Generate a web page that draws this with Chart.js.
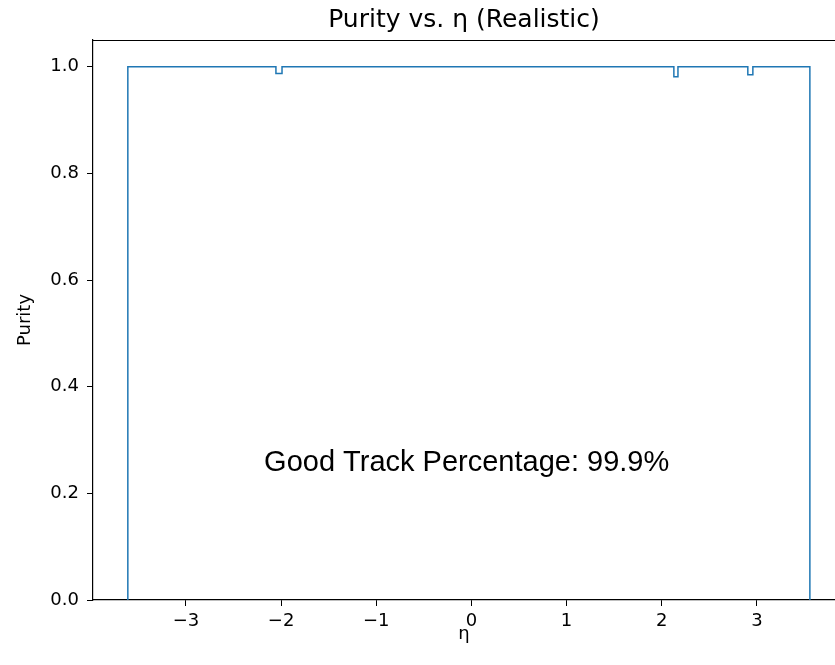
<!DOCTYPE html>
<html>
<head>
<meta charset="utf-8">
<script src="https://cdn.jsdelivr.net/npm/chart.js@4"></script>
<style>
  body { margin: 0; background: #fff; }
  canvas { display: block; }
</style>
</head>
<body>
<canvas id="purityChart" width="835" height="665"></canvas>
<script>
// histogram bin edges (eta) and purity per bin
const etaEdges = [-3.61, -2.054, -1.99, 2.127, 2.17, 2.904, 2.957, 3.556];
const purity = [1.0, 0.987, 1.0, 0.981, 1.0, 0.985, 1.0];
const xTicks = [-3, -2, -1, 0, 1, 2, 3];
const yTicks = [0.0, 0.2, 0.4, 0.6, 0.8, 1.0];
const goodTrackText = 'Good Track Percentage: 99.9%';

// step outline: down to 0 at both ends like histtype='step'
const stepPoints = [{ x: etaEdges[0], y: 0 }];
purity.forEach((v, i) => stepPoints.push({ x: etaEdges[i], y: v }));
stepPoints.push({ x: etaEdges[etaEdges.length - 1], y: 0 });

const frameAndText = {
    id: 'frameAndText',
    afterDraw(chart) {
        const ctx = chart.ctx;
        const area = chart.chartArea;
        ctx.save();
        ctx.strokeStyle = '#000';
        ctx.lineWidth = 1.2;
        ctx.beginPath();
        ctx.moveTo(area.left, area.top + 0.5);
        ctx.lineTo(area.right, area.top + 0.5);
        ctx.stroke();

        const x = chart.scales.x.getPixelForValue(-0.05);
        const y = chart.scales.y.getPixelForValue(0.256);
        ctx.fillStyle = '#000';
        ctx.font = '29px "Liberation Sans", Arial, sans-serif';
        ctx.textAlign = 'center';
        ctx.textBaseline = 'middle';
        ctx.fillText(goodTrackText, x, y);
        ctx.restore();
    }
};

const tickFont = { family: '"DejaVu Sans", sans-serif', size: 18 };

new Chart(document.getElementById('purityChart').getContext('2d'), {
    type: 'line',
    data: {
        datasets: [{
            data: stepPoints,
            stepped: 'before',
            borderColor: '#1f77b4',
            borderWidth: 1.5,
            pointRadius: 0,
            fill: false
        }]
    },
    options: {
        responsive: false,
        animation: false,
        layout: { padding: 0 },
        plugins: {
            legend: { display: false },
            tooltip: { enabled: false },
            title: {
                display: true,
                fullSize: false,
                text: 'Purity vs. η (Realistic)',
                color: '#000',
                font: { family: '"DejaVu Sans", sans-serif', size: 25, weight: 'normal' },
                padding: { top: 5, bottom: 5 }
            }
        },
        scales: {
            x: {
                type: 'linear',
                min: -3.976,
                max: 3.82,
                afterBuildTicks: (scale) => { scale.ticks = xTicks.map(v => ({ value: v })); },
                afterFit: (scale) => { scale.height = 65; },
                grid: { drawOnChartArea: false, drawTicks: true, tickLength: 6, color: '#000' },
                border: { display: true, color: '#000', width: 1.2 },
                ticks: {
                    color: '#000',
                    font: tickFont,
                    padding: 5,
                    maxRotation: 0,
                    callback: (v) => (v < 0 ? '\u2212' + Math.abs(v) : String(v))
                },
                title: {
                    display: true,
                    text: 'η',
                    color: '#000',
                    font: tickFont,
                    padding: { top: 0, bottom: 20 }
                }
            },
            y: {
                min: 0,
                max: 1.05,
                afterBuildTicks: (scale) => { scale.ticks = yTicks.map(v => ({ value: v })); },
                afterFit: (scale) => { scale.width = 93; },
                grid: { drawOnChartArea: false, drawTicks: true, tickLength: 6, color: '#000' },
                border: { display: true, color: '#000', width: 1.2 },
                ticks: {
                    color: '#000',
                    font: tickFont,
                    padding: 8,
                    callback: (v) => Number(v).toFixed(1)
                },
                title: {
                    display: true,
                    text: 'Purity',
                    color: '#000',
                    font: tickFont,
                    padding: { top: 15, bottom: 0 }
                }
            }
        }
    },
    plugins: [frameAndText]
});
</script>
</body>
</html>
